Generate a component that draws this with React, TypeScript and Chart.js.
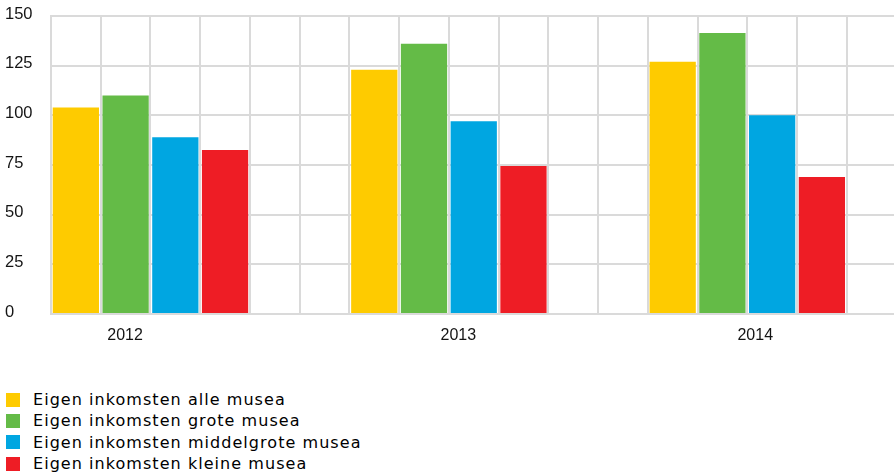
import React, { useEffect, useRef } from 'react';
import { Chart, registerables } from 'chart.js';

Chart.register(...registerables);

// ---- data ----
const categories = ['2012', '2013', '2014'];
const seriesNames = [
  'Eigen inkomsten alle musea',
  'Eigen inkomsten grote musea',
  'Eigen inkomsten middelgrote musea',
  'Eigen inkomsten kleine musea',
];
const alleMusea = [104, 123, 127];
const groteMusea = [110, 136, 141.5];
const middelgroteMusea = [89, 97, 100];
const kleineMusea = [82.5, 74.5, 69];
const yTickValues = [0, 25, 50, 75, 100, 125, 150];

// ---- styles / layout ----
const seriesColors = ['#FECB00', '#64BB47', '#00A6E1', '#EE1D25'];
const GRID = '#dadada';
const TEXT = '#141414';
const COLUMNS_PER_GROUP = 6;
const X_MAX = 16.95;
const GRID_COLUMNS = 17;
const LABEL_POSITIONS = [1.49, 8.19, 14.16];

const seriesValues = [alleMusea, groteMusea, middelgroteMusea, kleineMusea];

export default function App() {
  const canvasRef = useRef<HTMLCanvasElement | null>(null);

  useEffect(() => {
    if (!canvasRef.current) return;
    const datasets = seriesValues.map((vals, s) => ({
      label: seriesNames[s],
      data: categories.map((_, g) => ({ x: g * COLUMNS_PER_GROUP + s + 0.5, y: vals[g] })),
      backgroundColor: seriesColors[s],
      borderWidth: 0,
      grouped: false,
      barPercentage: 0.93,
      categoryPercentage: 1,
      xAxisID: 'x',
      yAxisID: 'y',
    }));

    const chart = new Chart(canvasRef.current, {
      type: 'bar',
      data: { datasets },
      options: {
        animation: false,
        responsive: false,
        devicePixelRatio: 1,
        layout: { padding: { left: 5, top: 16, right: 0, bottom: 0 } },
        plugins: { legend: { display: false }, tooltip: { enabled: false } },
        scales: {
          x: {
            type: 'linear',
            position: 'bottom',
            offset: false,
            min: 0,
            max: X_MAX,
            afterBuildTicks: (scale: any) => {
              const t = [];
              for (let i = 0; i < GRID_COLUMNS; i++) t.push({ value: i });
              scale.ticks = t;
            },
            ticks: { display: false },
            grid: { color: GRID, lineWidth: 2, drawTicks: false, offset: false },
            border: { color: GRID, width: 2 },
          },
          x2: {
            type: 'linear',
            position: 'bottom',
            offset: false,
            min: 0,
            max: X_MAX,
            afterBuildTicks: (scale: any) => {
              scale.ticks = LABEL_POSITIONS.map((v) => ({ value: v }));
            },
            afterFit: (scale: any) => {
              scale.height = 36;
            },
            ticks: {
              autoSkip: false,
              maxRotation: 0,
              padding: 12,
              color: TEXT,
              font: { family: '"Liberation Sans", Arial, sans-serif', size: 16 },
              callback: (_v: any, i: number) => categories[i],
            },
            grid: { display: false, drawTicks: false },
            border: { display: false },
          },
          y: {
            min: 0,
            max: 150,
            afterBuildTicks: (scale: any) => {
              scale.ticks = yTickValues.map((v) => ({ value: v }));
            },
            afterFit: (scale: any) => {
              scale.width = 46;
            },
            ticks: {
              crossAlign: 'far',
              color: TEXT,
              labelOffset: -2,
              font: { family: '"Liberation Sans", Arial, sans-serif', size: 16.5 },
            },
            grid: { color: GRID, lineWidth: 2, drawTicks: false },
            border: { color: GRID, width: 2 },
          },
        },
      } as any,
    });
    return () => chart.destroy();
  }, []);

  return (
    <div style={{ position: 'absolute', left: 0, top: 0, width: 894, height: 475, background: '#fff', overflow: 'hidden' }}>
      <canvas ref={canvasRef} width={894} height={350} style={{ display: 'block' }} />
      <div style={{ position: 'absolute', left: 0, top: 389 }}>
        {seriesNames.map((name, i) => (
          <div key={name} style={{ display: 'flex', alignItems: 'center', height: 21.3 }}>
            <span style={{ display: 'inline-block', width: 14, height: 14, marginLeft: 6, background: seriesColors[i] }} />
            <span
              style={{
                marginLeft: 13,
                fontFamily: '"DejaVu Sans", sans-serif',
                fontSize: 16,
                letterSpacing: '1.05px',
                color: '#000',
                whiteSpace: 'nowrap',
              }}
            >
              {name}
            </span>
          </div>
        ))}
      </div>
    </div>
  );
}
